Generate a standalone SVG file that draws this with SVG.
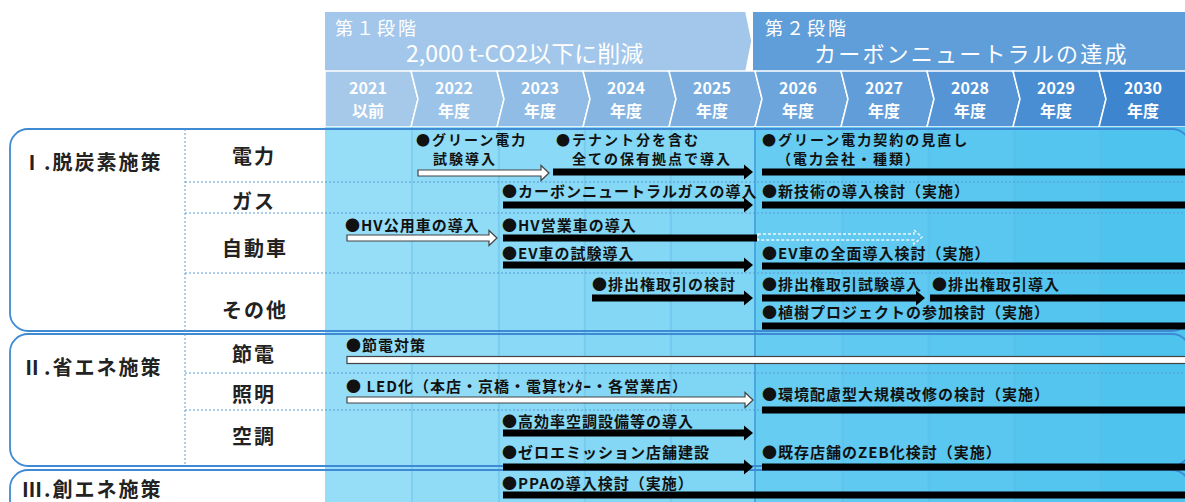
<svg xmlns="http://www.w3.org/2000/svg" width="1185" height="502" viewBox="0 0 1185 502">
<style>
.hd{font-family:"Noto Sans CJK JP","Noto Sans",sans-serif;fill:#fff}
.yr{font-family:"Noto Sans CJK JP","Noto Sans",sans-serif;fill:#fff;font-size:16px;font-weight:bold;text-anchor:middle}
.cat{font-family:"Noto Sans CJK JP",sans-serif;fill:#222;font-size:20px;font-weight:bold;letter-spacing:2px}
.sub{font-family:"Noto Sans CJK JP",sans-serif;fill:#222;font-size:20px;font-weight:bold;letter-spacing:2px;text-anchor:middle}
.lb{font-family:"Noto Sans CJK JP",sans-serif;fill:#111;font-size:15px;font-weight:bold;letter-spacing:1px}
.lb2{font-family:"Noto Sans CJK JP",sans-serif;fill:#111;font-size:14px;font-weight:bold;letter-spacing:2px}
.box{fill:none;stroke:#3f8ad4;stroke-width:1.8}
.dot{stroke:#5b9bd5;stroke-width:1;stroke-dasharray:2 2;fill:none}
.vl{stroke:#62b9e6;stroke-width:1;opacity:0.7}
.blk{fill:#000}
.wht{fill:#fff;stroke:#444;stroke-width:1.2}
.dsh{fill:none;stroke:#eef7fc;stroke-width:1.4;stroke-dasharray:3 2}
.cell{stroke:#fff;stroke-width:1.5}
</style>

<!-- header -->
<g id="header">
  <polygon points="753,12 1185,12 1185,71 753,71" fill="#5f9ed9"/>
  <polygon points="325,12 746,12 752,41 746,71 325,71" fill="#a3c7ea"/>
  <polyline points="746,12 752,41 746,71" fill="none" stroke="#fff" stroke-width="1.5"/>
  <text class="hd" x="335" y="35" font-size="18" letter-spacing="3">第１段階</text>
  <text class="hd" x="406" y="62" font-size="23">2,000 t-CO2以下に削減</text>
  <text class="hd" x="765" y="35" font-size="18" letter-spacing="3">第２段階</text>
  <text class="hd" x="814" y="62" font-size="22" letter-spacing="2.2">カーボンニュートラルの達成</text>

  <polygon class="cell" points="325,71 411,71 418,99 411,127 325,127" fill="#a6c9ea"/>
  <polygon class="cell" points="411,71 497,71 504,99 497,127 411,127 418,99" fill="#9cc3e8"/>
  <polygon class="cell" points="497,71 583,71 590,99 583,127 497,127 504,99" fill="#91bce5"/>
  <polygon class="cell" points="583,71 669,71 676,99 669,127 583,127 590,99" fill="#86b5e2"/>
  <polygon class="cell" points="669,71 755,71 762,99 755,127 669,127 676,99" fill="#7badde"/>
  <polygon class="cell" points="755,71 841,71 848,99 841,127 755,127 762,99" fill="#6ca5dc"/>
  <polygon class="cell" points="841,71 927,71 934,99 927,127 841,127 848,99" fill="#619dd9"/>
  <polygon class="cell" points="927,71 1013,71 1020,99 1013,127 927,127 934,99" fill="#5595d6"/>
  <polygon class="cell" points="1013,71 1099,71 1106,99 1099,127 1013,127 1020,99" fill="#498dd2"/>
  <polygon class="cell" points="1099,71 1190,71 1190,127 1099,127 1106,99" fill="#3e85cf"/>

  <text class="yr" x="368" y="94">2021</text><text class="yr" x="368" y="117">以前</text>
  <text class="yr" x="454" y="94">2022</text><text class="yr" x="454" y="117">年度</text>
  <text class="yr" x="540" y="94">2023</text><text class="yr" x="540" y="117">年度</text>
  <text class="yr" x="626" y="94">2024</text><text class="yr" x="626" y="117">年度</text>
  <text class="yr" x="712" y="94">2025</text><text class="yr" x="712" y="117">年度</text>
  <text class="yr" x="798" y="94">2026</text><text class="yr" x="798" y="117">年度</text>
  <text class="yr" x="884" y="94">2027</text><text class="yr" x="884" y="117">年度</text>
  <text class="yr" x="970" y="94">2028</text><text class="yr" x="970" y="117">年度</text>
  <text class="yr" x="1056" y="94">2029</text><text class="yr" x="1056" y="117">年度</text>
  <text class="yr" x="1143" y="94">2030</text><text class="yr" x="1143" y="117">年度</text>
</g>

<!-- body background -->
<g id="body">
  <rect x="325" y="127" width="86" height="375" fill="#96ddf7"/>
  <rect x="411" y="127" width="86" height="375" fill="#90dbf6"/>
  <rect x="497" y="127" width="86" height="375" fill="#8ad9f6"/>
  <rect x="583" y="127" width="86" height="375" fill="#84d7f5"/>
  <rect x="669" y="127" width="86" height="375" fill="#7ed5f4"/>
  <rect x="755" y="127" width="86" height="375" fill="#66ccf2"/>
  <rect x="841" y="127" width="86" height="375" fill="#5fc9f1"/>
  <rect x="927" y="127" width="86" height="375" fill="#59c7f0"/>
  <rect x="1013" y="127" width="86" height="375" fill="#53c5ef"/>
  <rect x="1099" y="127" width="86" height="375" fill="#4dc3ee"/>
  <line class="vl" x1="412" y1="127" x2="412" y2="502"/>
  <line class="vl" x1="499" y1="127" x2="499" y2="502"/>
  <line class="vl" x1="585" y1="127" x2="585" y2="502"/>
  <line class="vl" x1="671" y1="127" x2="671" y2="502"/>
  <line class="vl" x1="843" y1="127" x2="843" y2="502"/>
  <line class="vl" x1="929" y1="127" x2="929" y2="502"/>
  <line class="vl" x1="1015" y1="127" x2="1015" y2="502"/>
  <line class="vl" x1="1102" y1="127" x2="1102" y2="502"/>
  <line x1="755" y1="127" x2="755" y2="502" stroke="#2f93d8" stroke-width="1.3"/>
</g>

<!-- section I -->
<g id="sec1">
  <rect class="box" x="10" y="129" width="1180" height="202" rx="18"/>
  <line class="dot" x1="185" y1="129" x2="185" y2="331"/>
  <line class="dot" x1="185" y1="182" x2="1185" y2="182"/>
  <line class="dot" x1="185" y1="213" x2="1185" y2="213"/>
  <line class="dot" x1="185" y1="273" x2="1185" y2="273"/>
  <text class="cat" x="22" y="170">Ⅰ.脱炭素施策</text>
  <text class="sub" x="254" y="164">電力</text>
  <text class="sub" x="254" y="209">ガス</text>
  <text class="sub" x="255" y="256">自動車</text>
  <text class="sub" x="255" y="318">その他</text>
</g>

<!-- section II -->
<g id="sec2">
  <rect class="box" x="10" y="334" width="1180" height="132" rx="18"/>
  <line class="dot" x1="185" y1="334" x2="185" y2="466"/>
  <line class="dot" x1="185" y1="373" x2="1185" y2="373"/>
  <line class="dot" x1="185" y1="410" x2="1185" y2="410"/>
  <text class="cat" x="22" y="375">Ⅱ.省エネ施策</text>
  <text class="sub" x="254" y="362">節電</text>
  <text class="sub" x="254" y="402">照明</text>
  <text class="sub" x="254" y="444">空調</text>
</g>

<!-- section III -->
<g id="sec3">
  <rect class="box" x="10" y="470" width="1180" height="60" rx="18"/>
  <text class="cat" x="22" y="497">Ⅲ.創エネ施策</text>
</g>

<!-- connectors (arrows / bars) -->
<g id="connectors">
  <!-- 電力 -->
  <path class="wht" d="M418,170 H541 V165.5 L549,173 L541,180.5 V176 H418 Z"/>
  <path class="blk" d="M553,168.5 H744 V164.5 L753,172 L744,179.5 V175.5 H553 Z"/>
  <rect class="blk" x="762" y="168.5" width="425" height="7"/>
  <!-- ガス -->
  <path class="blk" d="M503,201.5 H744 V197.5 L753,205 L744,212.5 V208.5 H503 Z"/>
  <rect class="blk" x="762" y="201.5" width="425" height="7"/>
  <!-- 自動車 -->
  <path class="wht" d="M347,235 H489 V230.5 L497,238 L489,245.5 V241 H347 Z"/>
  <rect class="blk" x="503" y="234.5" width="254" height="7"/>
  <path class="dsh" d="M758,234 H914 V230 L922,237 L914,244 V240 H758 Z"/>
  <path class="blk" d="M503,261.5 H744 V257.5 L753,265 L744,272.5 V268.5 H503 Z"/>
  <rect class="blk" x="762" y="262.5" width="425" height="7"/>
  <!-- その他 -->
  <path class="blk" d="M592,294.5 H744 V290.5 L753,298 L744,305.5 V301.5 H592 Z"/>
  <path class="blk" d="M762,294.5 H916 V290.5 L925,298 L916,305.5 V301.5 H762 Z"/>
  <rect class="blk" x="930" y="294.5" width="257" height="7"/>
  <rect class="blk" x="762" y="322.5" width="425" height="7"/>
  <!-- 節電 -->
  <rect class="wht" x="347" y="356.5" width="845" height="7"/>
  <!-- 照明 -->
  <path class="wht" d="M347,397 H745 V392.5 L753,400 L745,407.5 V403 H347 Z"/>
  <rect class="blk" x="762" y="406.5" width="425" height="7"/>
  <!-- 空調 -->
  <path class="blk" d="M503,429.5 H744 V425.5 L753,433 L744,440.5 V436.5 H503 Z"/>
  <path class="blk" d="M503,463.5 H744 V459.5 L753,467 L744,474.5 V470.5 H503 Z"/>
  <rect class="blk" x="762" y="463.5" width="425" height="7"/>
  <!-- 創エネ -->
  <rect class="blk" x="503" y="491.5" width="684" height="7"/>
</g>

<!-- labels -->
<g id="labels">
  <text class="lb2" x="416" y="145">●グリーン電力</text>
  <text class="lb2" x="433" y="164">試験導入</text>
  <text class="lb2" x="556" y="145">●テナント分を含む</text>
  <text class="lb2" x="572" y="164">全ての保有拠点で導入</text>
  <text class="lb2" x="762" y="145">●グリーン電力契約の見直し</text>
  <text class="lb2" x="777" y="164">（電力会社・種類）</text>
  <text class="lb" x="502" y="197">●カーボンニュートラルガスの導入</text>
  <text class="lb" x="762" y="197">●新技術の導入検討（実施）</text>
  <text class="lb" x="345" y="231">●HV公用車の導入</text>
  <text class="lb" x="502" y="231">●HV営業車の導入</text>
  <text class="lb" x="502" y="259">●EV車の試験導入</text>
  <text class="lb" x="762" y="259">●EV車の全面導入検討（実施）</text>
  <text class="lb" x="592" y="290">●排出権取引の検討</text>
  <text class="lb" x="762" y="290">●排出権取引試験導入</text>
  <text class="lb" x="932" y="290">●排出権取引導入</text>
  <text class="lb" x="762" y="318">●植樹プロジェクトの参加検討（実施）</text>
  <text class="lb" x="346" y="351">●節電対策</text>
  <text class="lb" x="346" y="392">● LED化（本店・京橋・電算ｾﾝﾀｰ・各営業店）</text>
  <text class="lb" x="762" y="400">●環境配慮型大規模改修の検討（実施）</text>
  <text class="lb" x="502" y="427">●高効率空調設備等の導入</text>
  <text class="lb" x="502" y="458">●ゼロエミッション店舗建設</text>
  <text class="lb" x="762" y="458">●既存店舗のZEB化検討（実施）</text>
  <text class="lb" x="502" y="489">●PPAの導入検討（実施）</text>
</g>
</svg>
